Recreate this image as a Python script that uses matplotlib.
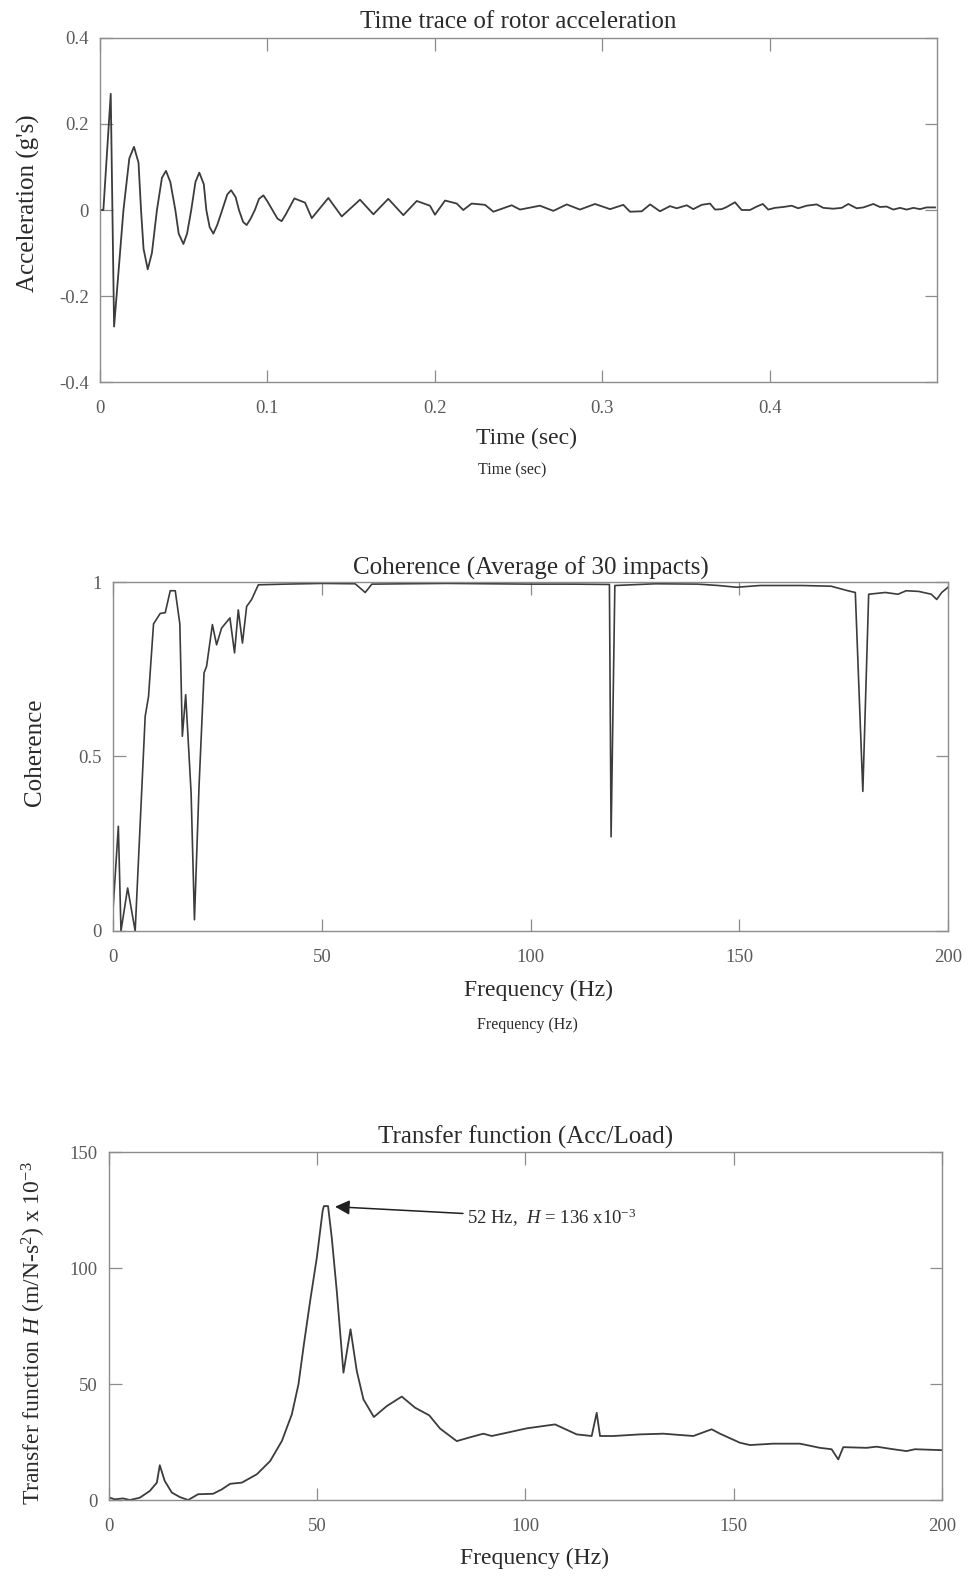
import numpy as np
import matplotlib
matplotlib.use("Agg")
import matplotlib.pyplot as plt

plt.rcParams['font.family'] = ['Liberation Serif', 'DejaVu Serif']
plt.rcParams['mathtext.fontset'] = 'custom'
plt.rcParams['mathtext.rm'] = 'Liberation Serif'
plt.rcParams['mathtext.it'] = 'Liberation Serif:italic'
plt.rcParams['axes.unicode_minus'] = False

INK = '#3c3c3c'      # curves
FRAME = '#8c8c8c'    # box + ticks
TXT = '#2a2a2a'      # titles / labels
TICKTXT = '#5a5a5a'  # tick numbers

# ---------------- rotor acceleration time trace ----------------
acc_t = [0.0, 0.002, 0.0064, 0.0084, 0.0105, 0.014, 0.0175, 0.0203, 0.023, 0.0245,
         0.026, 0.0285, 0.031, 0.034, 0.037, 0.0394, 0.042, 0.045, 0.047, 0.0498,
         0.052, 0.0545, 0.057, 0.0593, 0.062, 0.0635, 0.0655, 0.0677, 0.070, 0.073,
         0.076, 0.0783, 0.081, 0.083, 0.0855, 0.0876, 0.090, 0.0925, 0.095, 0.0976,
         0.100, 0.103, 0.106, 0.1085, 0.111, 0.1161, 0.1225, 0.1265, 0.1364, 0.1444,
         0.1553, 0.1633, 0.1722, 0.1812, 0.1892, 0.1971, 0.2001, 0.2061, 0.2131, 0.217,
         0.222, 0.230, 0.235, 0.2459, 0.2509, 0.2628, 0.2708, 0.2788, 0.2867, 0.2957,
         0.3047, 0.3126, 0.3166, 0.3236, 0.3286, 0.3345, 0.3405, 0.3445, 0.3505, 0.3544,
         0.3594, 0.3644, 0.3674, 0.3714, 0.3744, 0.3793, 0.3833, 0.3883, 0.3923, 0.3959,
         0.3992, 0.4032, 0.4082, 0.4132, 0.4171, 0.4221, 0.4281, 0.4321, 0.4381, 0.4431,
         0.4470, 0.4520, 0.4560, 0.4620, 0.4659, 0.4699, 0.4739, 0.4779, 0.4819, 0.4859,
         0.4898, 0.4938, 0.4988]
acc_g = [0.0, 0.0, 0.270, -0.271, -0.17, 0.0, 0.12, 0.147, 0.11, 0.0,
         -0.09, -0.138, -0.10, 0.0, 0.075, 0.091, 0.065, 0.0, -0.055, -0.079,
         -0.055, 0.0, 0.065, 0.087, 0.06, 0.0, -0.04, -0.055, -0.035, 0.0,
         0.036, 0.046, 0.03, 0.0, -0.028, -0.035, -0.02, 0.0, 0.026, 0.034,
         0.02, 0.0, -0.02, -0.026, -0.01, 0.027, 0.017, -0.019, 0.028, -0.015,
         0.024, -0.010, 0.026, -0.012, 0.021, 0.010, -0.011, 0.022, 0.015, 0.000,
         0.015, 0.012, -0.004, 0.011, 0.001, 0.010, -0.002, 0.013, 0.001, 0.014,
         0.002, 0.012, -0.004, -0.003, 0.013, -0.003, 0.009, 0.004, 0.011, 0.002,
         0.012, 0.015, 0.001, 0.002, 0.007, 0.018, 0.000, 0.000, 0.008, 0.014,
         0.001, 0.005, 0.007, 0.010, 0.004, 0.010, 0.013, 0.005, 0.003, 0.005,
         0.014, 0.004, 0.006, 0.014, 0.007, 0.008, 0.001, 0.005, 0.001, 0.005,
         0.002, 0.006, 0.006]
acc_xticks = [0.0, 0.1, 0.2, 0.3, 0.4]
acc_xlabels = ['0', '0.1', '0.2', '0.3', '0.4']
acc_yticks = [-0.4, -0.2, 0.0, 0.2, 0.4]
acc_ylabels = ['-0.4', '-0.2', '0', '0.2', '0.4']

# ---------------- coherence (30 impacts) ----------------
coh_f = [0, 1.27, 1.9, 3.5, 5.3, 7.7, 8.5, 9.7, 11.3, 12.5,
         13.7, 14.9, 16.0, 16.6, 17.4, 18.7, 19.5, 20.6, 21.8, 22.4,
         23.8, 24.8, 26.0, 28.0, 29.1, 30.0, 31.0, 32.0, 33.2, 34.8,
         41.2, 50, 58, 60.4, 62, 70, 80, 90, 100, 110,
         118.9, 119.3, 120.2, 130, 140, 145, 149.4, 155, 165, 172,
         176, 177.8, 179.6, 181, 185, 188, 190, 193, 196, 197.3,
         198.5, 200]
coh_val = [0.061, 0.30, 0.0, 0.123, 0.0, 0.615, 0.672, 0.88, 0.91, 0.912,
           0.975, 0.975, 0.88, 0.558, 0.677, 0.395, 0.032, 0.415, 0.74, 0.758,
           0.878, 0.82, 0.868, 0.897, 0.797, 0.92, 0.825, 0.93, 0.95, 0.992,
           0.994, 0.996, 0.995, 0.97, 0.994, 0.995, 0.996, 0.995, 0.994, 0.994,
           0.993, 0.27, 0.99, 0.995, 0.994, 0.99, 0.985, 0.99, 0.99, 0.988,
           0.975, 0.97, 0.40, 0.965, 0.97, 0.965, 0.975, 0.973, 0.965, 0.95,
           0.97, 0.985]
coh_yticks = [0, 0.5, 1]
coh_ylabels = ['0', '0.5', '1']

# ---------------- transfer function |H| (x 1e-3 m/N-s^2) ----------------
tf_f = [0.2, 1.4, 3.4, 5.0, 7.4, 9.8, 11.5, 12.2, 13.4, 15.1,
        17.0, 19.0, 21.4, 25.0, 27.1, 29.1, 31.9, 35.5, 38.7, 41.5,
        43.9, 45.5, 46.8, 48.3, 49.9, 51.3, 51.6, 52.6, 53.5, 54.7,
        56.3, 58.0, 59.5, 61.1, 63.6, 66.7, 70.3, 73.5, 76.9, 79.5,
        83.5, 87.0, 89.9, 91.9, 95.5, 100.3, 107.1, 112.3, 115.9, 117.1,
        117.9, 121.1, 127.5, 133.1, 140.3, 144.7, 146.7, 151.5, 153.9, 159.5,
        165.9, 170.7, 173.5, 175.1, 176.3, 181.9, 184.3, 188.3, 191.5, 193.5,
        200]
tf_H = [1.0, 0.3, 0.7, 0.0, 1.0, 3.9, 7.5, 15.0, 8.2, 3.2,
        1.3, 0.0, 2.5, 2.7, 4.6, 7.0, 7.5, 11.1, 16.8, 25.4,
        36.9, 49.9, 67.1, 85.8, 104.4, 124.6, 126.7, 126.7, 113, 90,
        54.9, 73.6, 55.6, 43.4, 35.8, 40.5, 44.6, 39.8, 36.5, 30.8,
        25.4, 27.2, 28.6, 27.6, 29.0, 30.9, 32.6, 28.3, 27.6, 37.6,
        27.6, 27.6, 28.3, 28.6, 27.6, 30.5, 28.6, 24.7, 23.7, 24.3,
        24.3, 22.5, 21.9, 17.5, 22.8, 22.5, 23.0, 21.9, 21.1, 21.9,
        21.5]
tf_yticks = [0, 50, 100, 150]
tf_ylabels = ['0', '50', '100', '150']

freq_xticks = [0, 50, 100, 150, 200]
freq_xlabels = ['0', '50', '100', '150', '200']


def style_axes(ax, xt, xl, yt, yl):
    ax.set_xticks(xt)
    ax.set_xticklabels(xl)
    ax.set_yticks(yt)
    ax.set_yticklabels(yl)
    ax.tick_params(direction='in', top=True, right=True, length=9, width=0.9,
                   color=FRAME, labelsize=13.5, labelcolor=TICKTXT)
    ax.tick_params(axis='x', pad=13)
    ax.tick_params(axis='y', pad=8)
    for s in ax.spines.values():
        s.set_color(FRAME)
        s.set_linewidth(1.0)


fig = plt.figure(figsize=(9.72, 15.76), dpi=100)
fig.patch.set_facecolor('white')

# --- panel 1: time trace
ax1 = fig.add_axes([0.1029, 0.7576, 0.8611, 0.2183])
ax1.plot(acc_t, acc_g, color=INK, lw=1.3)
ax1.set_xlim(0, 0.5)
ax1.set_ylim(-0.4, 0.4)
style_axes(ax1, acc_xticks, acc_xlabels, acc_yticks, acc_ylabels)
ax1.set_title('Time trace of rotor acceleration', fontsize=18, color=TXT,
              y=1.046, pad=0, va='center')
ax1.set_ylabel("Acceleration (g's)", fontsize=18, color=TXT, va='center')
ax1.yaxis.set_label_coords(-0.086, 0.52)
ax1.text(0.509, -0.163, 'Time (sec)', transform=ax1.transAxes, ha='center',
         va='center', fontsize=17, color=TXT)
ax1.text(0.493, -0.256, 'Time (sec)', transform=ax1.transAxes, ha='center',
         va='center', fontsize=11.5, color=TXT)

# --- panel 2: coherence
ax2 = fig.add_axes([0.1163, 0.4093, 0.8590, 0.2214])
ax2.plot(coh_f, coh_val, color=INK, lw=1.2)
ax2.set_xlim(0, 200)
ax2.set_ylim(0, 1)
style_axes(ax2, freq_xticks, freq_xlabels, coh_yticks, coh_ylabels)
ax2.set_title('Coherence (Average of 30 impacts)', fontsize=18, color=TXT,
              y=1.04, pad=0, va='center')
ax2.set_ylabel('Coherence', fontsize=18, color=TXT, va='center')
ax2.yaxis.set_label_coords(-0.0934, 0.513)
ax2.text(0.509, -0.169, 'Frequency (Hz)', transform=ax2.transAxes, ha='center',
         va='center', fontsize=17, color=TXT)
ax2.text(0.496, -0.269, 'Frequency (Hz)', transform=ax2.transAxes, ha='center',
         va='center', fontsize=11.5, color=TXT)

# --- panel 3: transfer function
ax3 = fig.add_axes([0.1121, 0.0482, 0.8570, 0.2208])
ax3.plot(tf_f, tf_H, color=INK, lw=1.3)
ax3.set_xlim(0, 200)
ax3.set_ylim(0, 150)
style_axes(ax3, freq_xticks, freq_xlabels, tf_yticks, tf_ylabels)
ax3.set_title('Transfer function (Acc/Load)', fontsize=18, color=TXT,
              y=1.043, pad=0, va='center')
ax3.set_ylabel(r'Transfer function $H$ (m/N-s$^2$) x 10$^{-3}$', fontsize=17,
               color=TXT, va='center')
ax3.yaxis.set_label_coords(-0.090, 0.48)
ax3.text(0.511, -0.167, 'Frequency (Hz)', transform=ax3.transAxes, ha='center',
         va='center', fontsize=17, color=TXT)

# peak callout, arrow tip taken from the curve maximum
i_pk = int(np.argmax(tf_H))
ax3.annotate(r'52 Hz,  $H$ = 136 x10$^{-3}$',
             xy=(tf_f[i_pk], tf_H[i_pk]), xytext=(86, 121.5),
             ha='left', va='center', fontsize=13.5, color=TXT,
             arrowprops=dict(arrowstyle='-|>', color='#202020', lw=1.1,
                             mutation_scale=22, shrinkA=1, shrinkB=8))

fig.savefig('out.png', dpi=100, facecolor='white')
